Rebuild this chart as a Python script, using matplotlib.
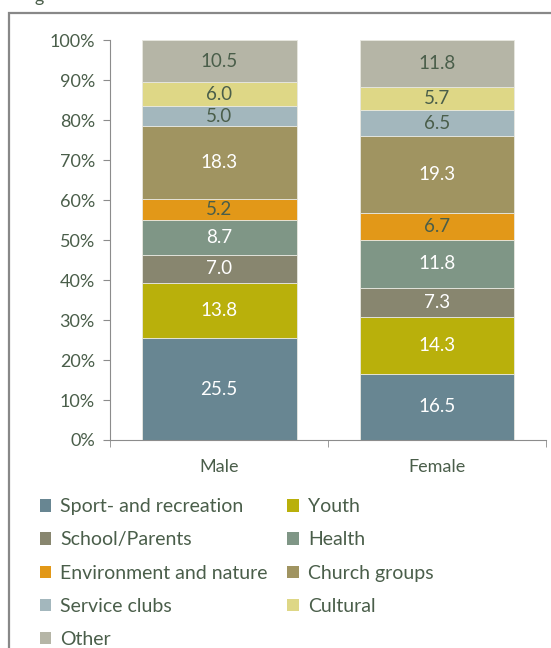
import matplotlib.pyplot as plt
from matplotlib.patches import Rectangle, Patch
import numpy as np

plt.rcParams['font.family'] = ['Lato', 'DejaVu Sans']

# data
groups = ['Male', 'Female']
categories = ['Sport- and recreation', 'Youth', 'School/Parents', 'Health',
              'Environment and nature', 'Church groups', 'Service clubs',
              'Cultural', 'Other']
male = [25.5, 13.8, 7.0, 8.7, 5.2, 18.3, 5.0, 6.0, 10.5]
female = [16.5, 14.3, 7.3, 11.8, 6.7, 19.3, 6.5, 5.7, 11.8]
colors = ['#688692', '#b9b00b', '#88866f', '#7f9686', '#e29818',
          '#a09461', '#a3b7bd', '#ded786', '#b5b5a6']
label_colors = ['white', 'white', 'white', 'white', '#4a5e4a',
                'white', '#4a5e4a', '#4a5e4a', '#4a5e4a']
text_col = '#4a5e4a'
axis_col = '#8c8c8c'

fig = plt.figure(figsize=(5.51, 6.48), dpi=100)
ax = fig.add_axes([0.2, 0.321, 0.791, 0.617])

x = np.arange(len(groups))
vals = np.array([male, female])  # shape (2, 9)
shares = vals / vals.sum(axis=1, keepdims=True) * 100
bottom = np.zeros(len(groups))
for i, cat in enumerate(categories):
    ax.bar(x, shares[:, i], bottom=bottom, width=0.71, color=colors[i],
           edgecolor='#e8e8e0', linewidth=0.6)
    for j in range(len(groups)):
        ax.text(x[j], bottom[j] + shares[j, i] / 2, f'{vals[j, i]:.1f}',
                ha='center', va='center', fontsize=13.5, color=label_colors[i])
    bottom += shares[:, i]

ax.set_xlim(-0.5, 1.5)
ax.set_ylim(0, 100)
ax.set_yticks(np.arange(0, 101, 10))
ax.set_yticklabels([f'{v}%' for v in range(0, 101, 10)])
ax.set_xticks(x)
ax.set_xticklabels(groups)
ax.set_xticks([-0.5, 0.5, 1.5], minor=True)
ax.tick_params(axis='x', which='major', length=0, pad=14, labelsize=13,
               labelcolor=text_col)
ax.tick_params(axis='x', which='minor', length=5, color=axis_col, direction='out')
ax.tick_params(axis='y', length=5, color=axis_col, labelsize=13,
               labelcolor=text_col, pad=6)
for s in ['top', 'right']:
    ax.spines[s].set_visible(False)
for s in ['left', 'bottom']:
    ax.spines[s].set_color(axis_col)

# legend, filled column by column
order = [0, 2, 4, 6, 8, 1, 3, 5, 7]
handles = [Patch(facecolor=colors[k], label=categories[k]) for k in order]
fig.legend(handles=handles, loc='upper left', bbox_to_anchor=(0.058, 0.243),
           ncol=2, frameon=False, fontsize=14, labelcolor=text_col,
           handlelength=0.6, handleheight=0.6, handletextpad=0.45,
           labelspacing=0.83, columnspacing=1.02, borderaxespad=0)

# frame around the figure and the cut off title
fig.patches.append(Rectangle((8.5 / 551, -0.1), 1.2, 1.1 - 13 / 648,
                             transform=fig.transFigure, fill=False,
                             edgecolor='#888888', linewidth=1.6))
fig.text(0.062, 1.0 - 2 / 648, 'g', fontsize=13, color=text_col,
         va='baseline', ha='left')

fig.savefig('out.png', dpi=100)
